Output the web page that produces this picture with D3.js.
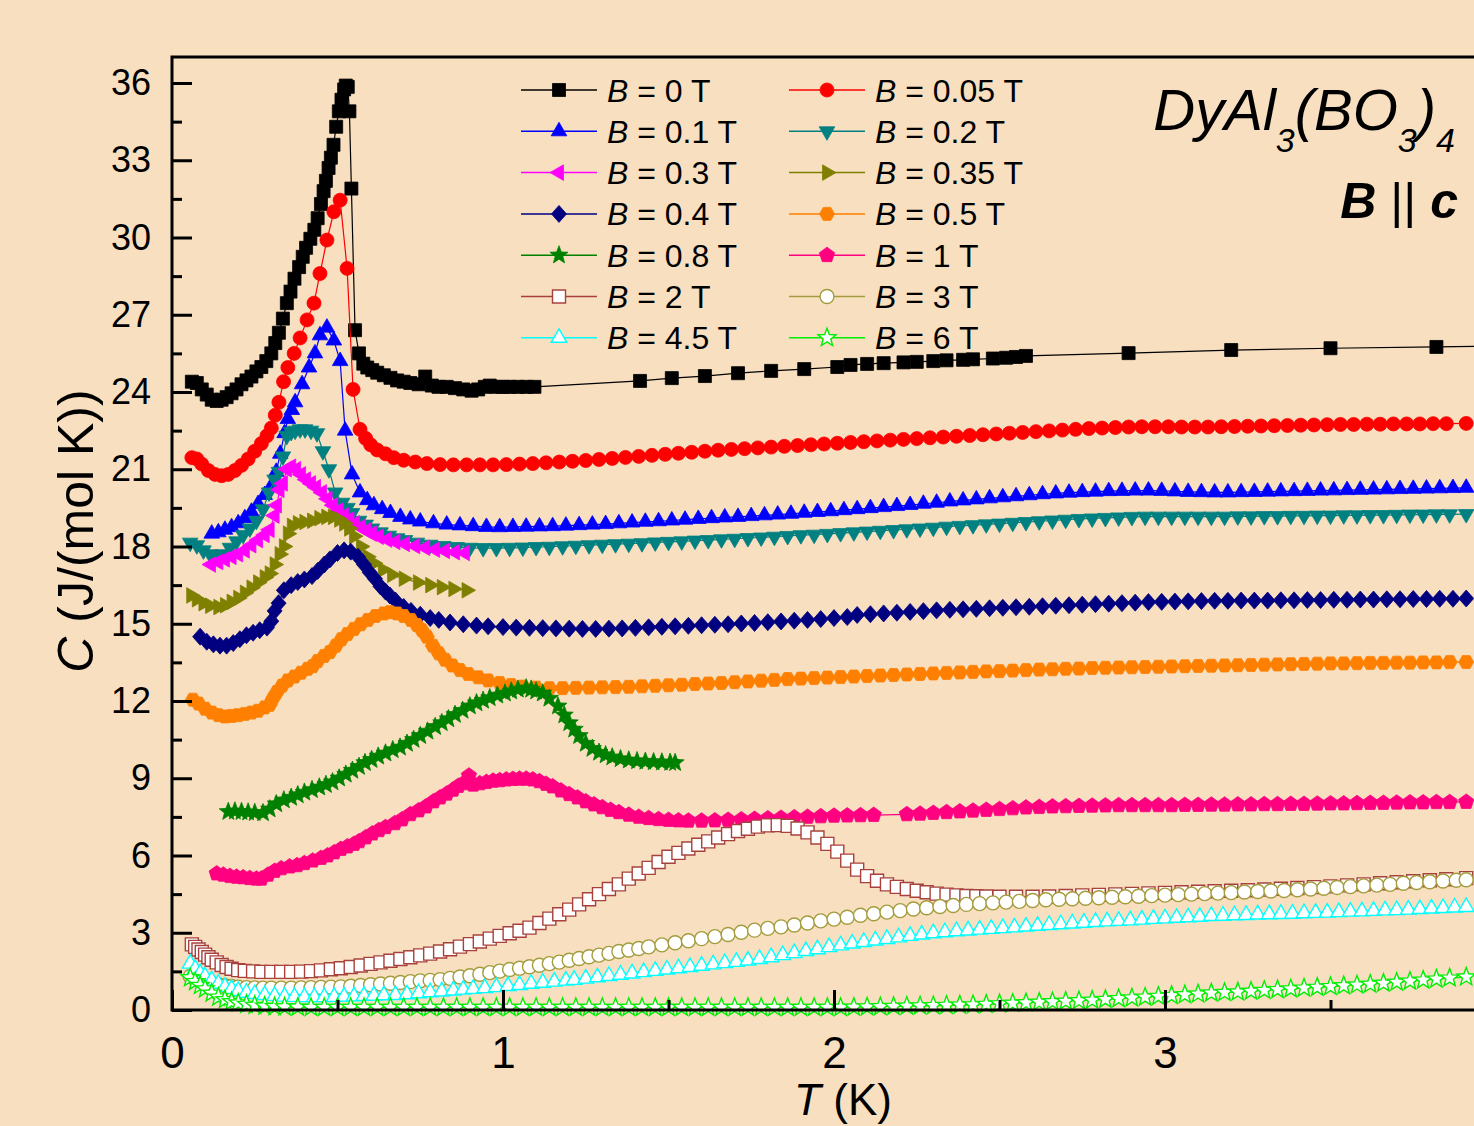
<!DOCTYPE html>
<html><head><meta charset="utf-8">
<script src="https://cdn.jsdelivr.net/npm/d3@7"></script>
<style>html,body{margin:0;padding:0;background:#f7dfc0;}svg{display:block;}</style>
</head><body>
<svg id="chart" width="1474" height="1126"></svg>
<script>
// ---------- data ----------
const xMajorTicks = [0, 1, 2, 3];
const xMinorTicks = [0.5, 1.5, 2.5, 3.5];
const yMajorTicks = [0, 3, 6, 9, 12, 15, 18, 21, 24, 27, 30, 33, 36];
const yMinorTicks = [1.5, 4.5, 7.5, 10.5, 13.5, 16.5, 19.5, 22.5, 25.5, 28.5, 31.5, 34.5];
const fieldLabels = ["0", "0.05", "0.1", "0.2", "0.3", "0.35", "0.4", "0.5", "0.8", "1", "2", "3", "4.5", "6"];
const fieldColors = ["#000000", "#ff0000", "#0000ff", "#008080", "#ff00ff", "#808000", "#000080", "#ff8000", "#008000", "#ff0080", "#a8413c", "#a39c3c", "#00ffff", "#00ee00"];
const fieldShapes = ["square", "circle", "up", "down", "left", "right", "diamond", "hexagon", "star", "pentagon", "square", "circle", "up", "star"];
const fieldFilled = [true, true, true, true, true, true, true, true, true, true, false, false, false, false];

const B0 = [[0.060,24.40],[0.075,24.35],[0.090,24.10],[0.105,23.90],[0.120,23.70],[0.135,23.65],[0.150,23.70],[0.165,23.80],[0.180,23.95],[0.195,24.10],[0.210,24.30],[0.225,24.45],[0.240,24.60],[0.255,24.80],[0.270,24.97],[0.285,25.20],[0.300,25.50],[0.312,25.90],[0.323,26.30],[0.335,26.85],[0.347,27.45],[0.358,27.90],[0.370,28.40],[0.384,28.85],[0.395,29.25],[0.405,29.60],[0.418,29.95],[0.430,30.30],[0.440,30.75],[0.450,31.30],[0.458,31.80],[0.465,32.20],[0.473,32.70],[0.480,33.10],[0.488,33.60],[0.496,34.30],[0.504,34.90],[0.512,35.35],[0.520,35.75],[0.525,35.90],[0.531,35.85],[0.536,34.90],[0.542,31.90],[0.553,26.40],[0.565,25.50],[0.578,25.10],[0.590,24.95],[0.605,24.85],[0.620,24.75],[0.640,24.65],[0.660,24.55],[0.680,24.45],[0.700,24.40],[0.720,24.35],[0.745,24.30],[0.765,24.60],[0.785,24.25],[0.805,24.20],[0.830,24.20],[0.855,24.15],[0.880,24.10],[0.905,24.05],[0.925,24.10],[0.945,24.20],[0.960,24.25],[0.980,24.20],[1.000,24.20],[1.020,24.20],[1.045,24.20],[1.070,24.20],[1.095,24.20],[1.414,24.43],[1.510,24.54],[1.610,24.62],[1.710,24.73],[1.810,24.82],[1.910,24.89],[2.010,24.97],[2.050,25.05],[2.100,25.09],[2.150,25.12],[2.210,25.15],[2.250,25.17],[2.300,25.20],[2.340,25.23],[2.390,25.25],[2.420,25.27],[2.480,25.30],[2.520,25.33],[2.550,25.36],[2.580,25.40],[2.890,25.51],[3.200,25.63],[3.500,25.70],[3.820,25.75],[4.000,25.78]];
const B005 = [[0.060,21.45],[0.075,21.40],[0.090,21.20],[0.110,20.95],[0.130,20.80],[0.150,20.75],[0.170,20.80],[0.190,20.95],[0.210,21.15],[0.230,21.40],[0.250,21.70],[0.270,22.00],[0.287,22.30],[0.300,22.60],[0.312,23.10],[0.323,23.60],[0.337,24.40],[0.350,24.95],[0.369,25.50],[0.387,26.10],[0.408,26.80],[0.429,27.45],[0.447,28.60],[0.468,29.90],[0.489,31.00],[0.508,31.45],[0.529,28.80],[0.547,24.10],[0.568,22.55],[0.585,22.20],[0.600,21.95],[0.620,21.75],[0.645,21.60],[0.670,21.45],[0.700,21.35],[0.735,21.28],[0.770,21.22],[0.810,21.18],[0.850,21.17],[0.890,21.17],[0.930,21.17],[0.970,21.17],[1.010,21.18],[1.050,21.20],[1.090,21.22],[1.130,21.25],[1.170,21.28],[1.210,21.31],[1.250,21.34],[1.290,21.38],[1.330,21.42],[1.370,21.46],[1.410,21.50],[1.450,21.54],[1.490,21.58],[1.530,21.62],[1.570,21.66],[1.610,21.70],[1.650,21.74],[1.690,21.77],[1.730,21.80],[1.770,21.83],[1.810,21.86],[1.850,21.89],[1.890,21.92],[1.930,21.95],[1.970,21.98],[2.010,22.01],[2.050,22.04],[2.090,22.07],[2.130,22.10],[2.170,22.13],[2.210,22.16],[2.250,22.19],[2.290,22.22],[2.330,22.25],[2.370,22.28],[2.410,22.31],[2.450,22.34],[2.490,22.37],[2.530,22.40],[2.570,22.43],[2.610,22.46],[2.650,22.49],[2.690,22.52],[2.730,22.55],[2.770,22.58],[2.810,22.60],[2.850,22.62],[2.890,22.64],[2.930,22.65],[2.970,22.65],[3.010,22.65],[3.050,22.64],[3.090,22.64],[3.130,22.64],[3.170,22.65],[3.210,22.66],[3.250,22.67],[3.290,22.68],[3.330,22.69],[3.370,22.70],[3.410,22.71],[3.450,22.72],[3.490,22.73],[3.530,22.74],[3.570,22.74],[3.610,22.75],[3.650,22.75],[3.690,22.76],[3.730,22.76],[3.770,22.76],[3.810,22.77],[3.850,22.77],[3.910,22.78]];
const B01 = [[0.120,18.50],[0.140,18.55],[0.160,18.65],[0.180,18.75],[0.200,18.90],[0.220,19.10],[0.240,19.35],[0.260,19.65],[0.280,20.00],[0.300,20.35],[0.315,20.90],[0.327,21.60],[0.340,22.40],[0.350,22.95],[0.362,23.30],[0.372,23.60],[0.393,24.30],[0.414,24.95],[0.432,25.50],[0.447,26.20],[0.468,26.50],[0.489,26.00],[0.508,25.20],[0.523,22.50],[0.544,20.80],[0.568,20.10],[0.590,19.80],[0.610,19.60],[0.635,19.45],[0.660,19.30],[0.690,19.15],[0.720,19.05],[0.750,18.97],[0.790,18.90],[0.830,18.85],[0.870,18.82],[0.910,18.79],[0.950,18.76],[0.990,18.75],[1.030,18.76],[1.070,18.77],[1.110,18.78],[1.150,18.79],[1.190,18.81],[1.230,18.83],[1.270,18.85],[1.310,18.87],[1.350,18.90],[1.390,18.93],[1.430,18.96],[1.470,18.98],[1.510,19.01],[1.550,19.04],[1.590,19.07],[1.630,19.10],[1.670,19.13],[1.710,19.15],[1.750,19.18],[1.790,19.21],[1.830,19.24],[1.870,19.27],[1.910,19.31],[1.950,19.34],[1.990,19.37],[2.030,19.41],[2.070,19.45],[2.110,19.49],[2.150,19.53],[2.190,19.57],[2.230,19.61],[2.270,19.66],[2.310,19.70],[2.350,19.75],[2.390,19.79],[2.430,19.83],[2.470,19.87],[2.510,19.91],[2.550,19.95],[2.590,19.99],[2.630,20.03],[2.670,20.06],[2.710,20.09],[2.750,20.11],[2.790,20.13],[2.830,20.15],[2.870,20.16],[2.910,20.17],[2.950,20.17],[2.990,20.16],[3.030,20.14],[3.070,20.12],[3.110,20.11],[3.150,20.10],[3.190,20.10],[3.230,20.11],[3.270,20.12],[3.310,20.13],[3.350,20.14],[3.390,20.15],[3.430,20.16],[3.470,20.17],[3.510,20.18],[3.550,20.19],[3.590,20.20],[3.630,20.21],[3.670,20.22],[3.710,20.23],[3.750,20.24],[3.790,20.25],[3.830,20.26],[3.870,20.27],[3.910,20.28]];
const B02 = [[0.055,18.15],[0.075,18.05],[0.095,17.85],[0.115,17.70],[0.135,17.60],[0.155,17.70],[0.175,17.95],[0.195,18.20],[0.215,18.45],[0.235,18.70],[0.255,19.00],[0.275,19.45],[0.293,20.10],[0.310,20.60],[0.323,20.90],[0.335,21.50],[0.347,22.30],[0.360,22.45],[0.372,22.50],[0.387,22.55],[0.402,22.55],[0.420,22.50],[0.438,22.40],[0.456,21.70],[0.474,21.00],[0.493,20.10],[0.514,19.70],[0.530,19.50],[0.544,19.30],[0.565,19.00],[0.585,18.85],[0.604,18.70],[0.630,18.55],[0.655,18.42],[0.680,18.32],[0.704,18.25],[0.740,18.15],[0.780,18.07],[0.820,18.02],[0.860,17.98],[0.900,17.95],[0.940,17.94],[0.980,17.94],[1.020,17.95],[1.060,17.96],[1.100,17.98],[1.140,17.99],[1.180,18.01],[1.220,18.03],[1.260,18.05],[1.300,18.07],[1.340,18.09],[1.380,18.11],[1.420,18.13],[1.460,18.16],[1.500,18.18],[1.540,18.20],[1.580,18.23],[1.620,18.25],[1.660,18.28],[1.700,18.30],[1.740,18.33],[1.780,18.35],[1.820,18.38],[1.860,18.41],[1.900,18.44],[1.940,18.46],[1.980,18.49],[2.020,18.52],[2.060,18.55],[2.100,18.58],[2.140,18.61],[2.180,18.64],[2.220,18.67],[2.260,18.70],[2.300,18.73],[2.340,18.77],[2.380,18.80],[2.420,18.83],[2.460,18.86],[2.500,18.89],[2.540,18.92],[2.580,18.95],[2.620,18.98],[2.660,19.01],[2.700,19.04],[2.740,19.07],[2.780,19.09],[2.820,19.11],[2.860,19.13],[2.900,19.15],[2.940,19.16],[2.980,19.16],[3.020,19.16],[3.060,19.16],[3.100,19.16],[3.140,19.16],[3.180,19.16],[3.220,19.17],[3.260,19.17],[3.300,19.18],[3.340,19.18],[3.380,19.19],[3.420,19.19],[3.460,19.20],[3.500,19.20],[3.540,19.21],[3.580,19.21],[3.620,19.22],[3.660,19.22],[3.700,19.23],[3.740,19.24],[3.780,19.24],[3.820,19.25],[3.860,19.25],[3.910,19.26]];
const B03 = [[0.118,17.30],[0.140,17.40],[0.160,17.50],[0.180,17.60],[0.200,17.70],[0.220,17.85],[0.240,18.05],[0.260,18.25],[0.280,18.45],[0.295,18.65],[0.310,19.20],[0.317,19.60],[0.325,20.20],[0.335,20.45],[0.347,21.00],[0.360,21.10],[0.375,21.00],[0.390,20.80],[0.405,20.60],[0.420,20.45],[0.435,20.30],[0.453,20.10],[0.470,19.85],[0.487,19.60],[0.504,19.40],[0.520,19.20],[0.536,19.05],[0.553,18.90],[0.570,18.75],[0.587,18.62],[0.604,18.50],[0.625,18.38],[0.650,18.27],[0.675,18.18],[0.704,18.10],[0.735,18.02],[0.765,17.95],[0.795,17.88],[0.825,17.83],[0.855,17.78],[0.885,17.75]];
const B035 = [[0.058,16.10],[0.075,15.95],[0.095,15.80],[0.115,15.70],[0.140,15.65],[0.160,15.72],[0.180,15.85],[0.200,16.00],[0.220,16.20],[0.240,16.40],[0.260,16.60],[0.280,16.80],[0.295,16.95],[0.310,17.30],[0.325,17.70],[0.338,18.00],[0.350,18.50],[0.362,18.80],[0.380,18.90],[0.400,18.95],[0.423,19.00],[0.445,19.10],[0.466,19.15],[0.486,19.15],[0.505,19.05],[0.520,18.90],[0.535,18.70],[0.550,18.40],[0.571,18.00],[0.590,17.60],[0.610,17.35],[0.637,17.10],[0.665,16.90],[0.700,16.75],[0.743,16.60],[0.780,16.50],[0.815,16.42],[0.850,16.35],[0.890,16.30]];
const B04 = [[0.085,14.50],[0.105,14.30],[0.125,14.20],[0.145,14.15],[0.165,14.15],[0.185,14.25],[0.205,14.40],[0.225,14.55],[0.245,14.65],[0.265,14.75],[0.287,14.85],[0.300,15.10],[0.310,15.50],[0.322,15.80],[0.338,16.30],[0.360,16.50],[0.380,16.62],[0.400,16.72],[0.423,16.85],[0.440,17.05],[0.460,17.30],[0.477,17.50],[0.500,17.75],[0.520,17.85],[0.540,17.80],[0.562,17.60],[0.580,17.30],[0.597,17.00],[0.613,16.75],[0.630,16.45],[0.645,16.25],[0.658,16.10],[0.675,15.90],[0.700,15.65],[0.722,15.50],[0.750,15.35],[0.780,15.22],[0.806,15.15],[0.840,15.05],[0.880,14.98],[0.920,14.93],[0.955,14.90],[1.000,14.87],[1.040,14.85],[1.080,14.84],[1.120,14.83],[1.160,14.82],[1.200,14.81],[1.240,14.80],[1.280,14.80],[1.320,14.81],[1.360,14.82],[1.400,14.84],[1.440,14.86],[1.480,14.88],[1.520,14.90],[1.560,14.92],[1.600,14.94],[1.640,14.96],[1.680,14.98],[1.720,15.01],[1.760,15.03],[1.800,15.06],[1.840,15.09],[1.880,15.12],[1.920,15.15],[1.960,15.18],[2.000,15.22],[2.040,15.26],[2.070,15.34],[2.110,15.37],[2.150,15.40],[2.190,15.43],[2.230,15.46],[2.270,15.49],[2.310,15.52],[2.350,15.54],[2.390,15.56],[2.430,15.58],[2.470,15.60],[2.510,15.62],[2.550,15.64],[2.590,15.66],[2.630,15.68],[2.670,15.70],[2.710,15.72],[2.750,15.74],[2.790,15.76],[2.830,15.78],[2.870,15.80],[2.910,15.82],[2.950,15.84],[2.990,15.85],[3.030,15.86],[3.070,15.87],[3.110,15.88],[3.150,15.89],[3.190,15.89],[3.230,15.90],[3.270,15.90],[3.310,15.90],[3.350,15.91],[3.390,15.91],[3.430,15.92],[3.470,15.92],[3.510,15.93],[3.550,15.93],[3.590,15.94],[3.630,15.94],[3.670,15.95],[3.710,15.95],[3.750,15.96],[3.790,15.96],[3.830,15.97],[3.870,15.97],[3.910,15.98]];
const B05 = [[0.063,12.05],[0.080,11.90],[0.100,11.70],[0.120,11.55],[0.140,11.45],[0.160,11.40],[0.180,11.42],[0.200,11.45],[0.220,11.50],[0.240,11.55],[0.260,11.62],[0.280,11.75],[0.295,11.85],[0.305,12.10],[0.317,12.35],[0.333,12.60],[0.350,12.80],[0.370,12.95],[0.390,13.10],[0.410,13.25],[0.425,13.35],[0.440,13.55],[0.460,13.75],[0.477,13.90],[0.495,14.15],[0.512,14.40],[0.530,14.60],[0.550,14.80],[0.570,14.98],[0.592,15.15],[0.615,15.30],[0.640,15.40],[0.658,15.45],[0.680,15.40],[0.700,15.30],[0.722,15.15],[0.740,14.95],[0.755,14.75],[0.770,14.50],[0.788,14.15],[0.806,13.85],[0.825,13.60],[0.847,13.38],[0.870,13.20],[0.895,13.05],[0.925,12.92],[0.955,12.80],[0.990,12.70],[1.025,12.62],[1.060,12.56],[1.100,12.52],[1.140,12.50],[1.180,12.50],[1.220,12.51],[1.260,12.52],[1.300,12.53],[1.340,12.54],[1.380,12.55],[1.420,12.57],[1.460,12.59],[1.500,12.61],[1.540,12.63],[1.580,12.66],[1.620,12.68],[1.660,12.70],[1.700,12.73],[1.740,12.76],[1.780,12.79],[1.820,12.82],[1.860,12.85],[1.900,12.87],[1.940,12.89],[1.980,12.91],[2.020,12.93],[2.060,12.95],[2.100,12.97],[2.140,12.99],[2.180,13.01],[2.220,13.03],[2.260,13.05],[2.300,13.07],[2.340,13.09],[2.380,13.11],[2.420,13.13],[2.460,13.15],[2.500,13.16],[2.540,13.18],[2.580,13.20],[2.620,13.22],[2.660,13.23],[2.700,13.25],[2.740,13.26],[2.780,13.28],[2.820,13.29],[2.860,13.30],[2.900,13.31],[2.940,13.32],[2.980,13.33],[3.020,13.34],[3.060,13.35],[3.100,13.36],[3.140,13.37],[3.180,13.38],[3.220,13.39],[3.260,13.40],[3.300,13.41],[3.340,13.42],[3.380,13.43],[3.420,13.44],[3.460,13.45],[3.500,13.46],[3.540,13.46],[3.580,13.47],[3.620,13.48],[3.660,13.48],[3.700,13.49],[3.740,13.49],[3.780,13.50],[3.820,13.50],[3.860,13.51],[3.910,13.51]];
const B08 = [[0.170,7.70],[0.190,7.72],[0.210,7.70],[0.230,7.68],[0.250,7.66],[0.275,7.65],[0.295,7.80],[0.315,8.00],[0.338,8.15],[0.360,8.25],[0.380,8.35],[0.400,8.45],[0.423,8.55],[0.445,8.65],[0.465,8.75],[0.485,8.85],[0.505,9.00],[0.525,9.15],[0.545,9.30],[0.565,9.45],[0.583,9.60],[0.603,9.72],[0.623,9.85],[0.645,9.97],[0.667,10.10],[0.689,10.20],[0.710,10.35],[0.730,10.50],[0.750,10.65],[0.772,10.82],[0.795,11.00],[0.815,11.15],[0.835,11.30],[0.855,11.47],[0.878,11.63],[0.900,11.80],[0.920,11.92],[0.940,12.02],[0.960,12.12],[0.983,12.22],[1.006,12.30],[1.025,12.38],[1.045,12.45],[1.070,12.50],[1.085,12.45],[1.100,12.38],[1.120,12.30],[1.140,12.10],[1.166,11.80],[1.185,11.45],[1.200,11.15],[1.215,10.90],[1.230,10.65],[1.250,10.35],[1.270,10.15],[1.290,10.00],[1.310,9.90],[1.330,9.82],[1.355,9.75],[1.380,9.70],[1.405,9.67],[1.430,9.65],[1.455,9.63],[1.480,9.62],[1.505,9.61],[1.520,9.60]];
const B1 = [[0.135,5.30],[0.155,5.25],[0.175,5.20],[0.195,5.17],[0.215,5.15],[0.235,5.12],[0.255,5.10],[0.270,5.10],[0.290,5.25],[0.310,5.40],[0.330,5.50],[0.355,5.57],[0.378,5.62],[0.400,5.70],[0.425,5.80],[0.450,5.90],[0.470,6.00],[0.490,6.12],[0.510,6.25],[0.530,6.35],[0.550,6.45],[0.565,6.55],[0.585,6.70],[0.605,6.85],[0.625,6.98],[0.645,7.10],[0.673,7.25],[0.695,7.40],[0.720,7.60],[0.745,7.75],[0.767,7.90],[0.790,8.10],[0.810,8.25],[0.830,8.40],[0.849,8.55],[0.865,8.70],[0.880,8.80],[0.897,9.10],[0.910,8.75],[0.930,8.80],[0.950,8.85],[0.970,8.90],[0.990,8.92],[1.010,8.95],[1.030,8.97],[1.050,8.98],[1.070,8.98],[1.090,8.95],[1.110,8.88],[1.130,8.78],[1.150,8.68],[1.175,8.52],[1.200,8.38],[1.225,8.25],[1.250,8.10],[1.275,7.98],[1.300,7.87],[1.325,7.77],[1.350,7.68],[1.380,7.58],[1.410,7.50],[1.440,7.45],[1.470,7.41],[1.500,7.38],[1.530,7.36],[1.560,7.35],[1.600,7.35],[1.640,7.36],[1.680,7.38],[1.720,7.40],[1.760,7.42],[1.800,7.44],[1.840,7.46],[1.880,7.48],[1.920,7.50],[1.960,7.52],[2.000,7.54],[2.040,7.55],[2.080,7.56],[2.120,7.57],[2.220,7.60],[2.260,7.62],[2.300,7.65],[2.340,7.68],[2.380,7.71],[2.420,7.74],[2.460,7.77],[2.500,7.80],[2.540,7.83],[2.580,7.86],[2.620,7.88],[2.660,7.90],[2.700,7.91],[2.740,7.92],[2.780,7.93],[2.820,7.94],[2.860,7.95],[2.900,7.95],[2.940,7.95],[2.980,7.95],[3.020,7.95],[3.060,7.96],[3.100,7.96],[3.140,7.97],[3.180,7.97],[3.220,7.98],[3.260,7.98],[3.300,7.99],[3.340,7.99],[3.380,8.00],[3.420,8.00],[3.460,8.01],[3.500,8.02],[3.540,8.02],[3.580,8.03],[3.620,8.04],[3.660,8.04],[3.700,8.05],[3.740,8.06],[3.780,8.06],[3.820,8.07],[3.860,8.07],[3.910,8.08]];
const B2 = [[0.060,2.55],[0.070,2.45],[0.080,2.35],[0.090,2.25],[0.100,2.15],[0.110,2.05],[0.120,1.95],[0.135,1.85],[0.150,1.75],[0.165,1.67],[0.180,1.60],[0.200,1.55],[0.220,1.52],[0.245,1.50],[0.270,1.48],[0.300,1.48],[0.330,1.48],[0.360,1.48],[0.390,1.49],[0.420,1.51],[0.450,1.54],[0.480,1.58],[0.510,1.62],[0.540,1.67],[0.570,1.73],[0.600,1.79],[0.630,1.85],[0.660,1.91],[0.690,1.98],[0.720,2.05],[0.750,2.12],[0.780,2.19],[0.810,2.27],[0.840,2.36],[0.870,2.46],[0.900,2.56],[0.930,2.66],[0.960,2.77],[0.990,2.88],[1.020,2.98],[1.050,3.08],[1.080,3.20],[1.110,3.38],[1.140,3.55],[1.170,3.72],[1.200,3.90],[1.230,4.10],[1.260,4.30],[1.290,4.50],[1.320,4.70],[1.350,4.88],[1.380,5.10],[1.410,5.30],[1.440,5.52],[1.470,5.75],[1.500,5.95],[1.530,6.10],[1.560,6.27],[1.590,6.42],[1.620,6.55],[1.650,6.70],[1.680,6.83],[1.710,6.95],[1.740,7.04],[1.770,7.12],[1.800,7.17],[1.830,7.18],[1.860,7.15],[1.890,7.05],[1.920,6.90],[1.950,6.70],[1.980,6.45],[2.010,6.15],[2.040,5.80],[2.070,5.45],[2.100,5.20],[2.130,5.02],[2.160,4.88],[2.190,4.78],[2.220,4.70],[2.250,4.63],[2.280,4.57],[2.310,4.52],[2.340,4.48],[2.370,4.45],[2.400,4.43],[2.430,4.42],[2.460,4.41],[2.500,4.40],[2.550,4.40],[2.600,4.40],[2.650,4.41],[2.700,4.43],[2.750,4.45],[2.800,4.47],[2.850,4.49],[2.900,4.51],[2.950,4.53],[3.000,4.55],[3.050,4.57],[3.100,4.59],[3.150,4.61],[3.200,4.63],[3.250,4.65],[3.300,4.68],[3.350,4.71],[3.400,4.74],[3.450,4.77],[3.500,4.80],[3.550,4.84],[3.600,4.88],[3.650,4.92],[3.700,4.96],[3.750,5.00],[3.800,5.04],[3.850,5.08],[3.910,5.12]];
const B3 = [[0.055,1.30],[0.070,1.20],[0.085,1.12],[0.100,1.07],[0.120,1.03],[0.140,0.98],[0.160,0.94],[0.180,0.91],[0.200,0.89],[0.225,0.87],[0.250,0.86],[0.275,0.85],[0.300,0.85],[0.330,0.85],[0.360,0.85],[0.390,0.86],[0.420,0.87],[0.450,0.88],[0.480,0.89],[0.510,0.90],[0.540,0.92],[0.570,0.95],[0.600,0.98],[0.630,1.01],[0.660,1.04],[0.690,1.07],[0.720,1.10],[0.750,1.13],[0.780,1.15],[0.810,1.18],[0.840,1.23],[0.870,1.28],[0.900,1.33],[0.930,1.39],[0.960,1.45],[0.990,1.51],[1.020,1.57],[1.050,1.62],[1.080,1.68],[1.110,1.74],[1.140,1.80],[1.170,1.86],[1.200,1.93],[1.230,2.00],[1.260,2.07],[1.290,2.13],[1.320,2.20],[1.350,2.27],[1.380,2.33],[1.410,2.39],[1.440,2.45],[1.480,2.53],[1.520,2.61],[1.560,2.69],[1.600,2.77],[1.640,2.85],[1.680,2.93],[1.720,3.02],[1.760,3.10],[1.800,3.17],[1.840,3.23],[1.880,3.30],[1.920,3.38],[1.960,3.46],[2.000,3.53],[2.040,3.60],[2.080,3.68],[2.120,3.74],[2.160,3.80],[2.200,3.86],[2.240,3.92],[2.280,3.97],[2.320,4.02],[2.360,4.06],[2.400,4.10],[2.440,4.13],[2.480,4.16],[2.520,4.19],[2.560,4.22],[2.600,4.25],[2.640,4.28],[2.680,4.30],[2.720,4.32],[2.760,4.34],[2.800,4.36],[2.840,4.38],[2.880,4.40],[2.920,4.42],[2.960,4.44],[3.000,4.46],[3.040,4.48],[3.080,4.50],[3.120,4.52],[3.160,4.54],[3.200,4.56],[3.240,4.58],[3.280,4.60],[3.320,4.62],[3.360,4.64],[3.400,4.67],[3.440,4.70],[3.480,4.73],[3.520,4.76],[3.560,4.79],[3.600,4.82],[3.640,4.85],[3.680,4.88],[3.720,4.92],[3.760,4.95],[3.800,4.98],[3.840,5.01],[3.880,5.04],[3.910,5.06]];
const B45 = [[0.055,1.80],[0.070,1.60],[0.085,1.42],[0.100,1.30],[0.120,1.15],[0.140,1.02],[0.160,0.90],[0.180,0.82],[0.200,0.74],[0.225,0.67],[0.250,0.62],[0.280,0.58],[0.310,0.55],[0.340,0.52],[0.370,0.51],[0.400,0.50],[0.430,0.50],[0.460,0.50],[0.490,0.51],[0.520,0.52],[0.550,0.53],[0.580,0.55],[0.610,0.56],[0.640,0.57],[0.675,0.58],[0.710,0.61],[0.745,0.65],[0.780,0.69],[0.815,0.72],[0.850,0.76],[0.880,0.79],[0.910,0.82],[0.945,0.85],[0.980,0.89],[1.015,0.93],[1.050,0.97],[1.085,1.02],[1.120,1.06],[1.155,1.10],[1.190,1.14],[1.215,1.17],[1.250,1.22],[1.285,1.27],[1.320,1.32],[1.355,1.37],[1.390,1.42],[1.425,1.47],[1.460,1.52],[1.495,1.57],[1.530,1.62],[1.565,1.67],[1.600,1.72],[1.635,1.77],[1.670,1.82],[1.705,1.87],[1.740,1.92],[1.775,1.98],[1.810,2.05],[1.845,2.13],[1.880,2.21],[1.915,2.29],[1.950,2.36],[1.985,2.44],[2.020,2.51],[2.055,2.58],[2.090,2.64],[2.125,2.70],[2.160,2.76],[2.195,2.82],[2.230,2.88],[2.265,2.93],[2.300,2.98],[2.335,3.02],[2.370,3.06],[2.405,3.09],[2.440,3.12],[2.475,3.15],[2.510,3.18],[2.545,3.21],[2.580,3.24],[2.615,3.27],[2.650,3.30],[2.685,3.33],[2.720,3.36],[2.755,3.39],[2.790,3.42],[2.825,3.44],[2.860,3.46],[2.895,3.48],[2.930,3.51],[2.965,3.54],[3.000,3.56],[3.035,3.58],[3.070,3.60],[3.105,3.62],[3.140,3.65],[3.175,3.66],[3.210,3.68],[3.245,3.69],[3.280,3.71],[3.315,3.72],[3.350,3.73],[3.385,3.74],[3.420,3.76],[3.455,3.77],[3.490,3.78],[3.525,3.80],[3.560,3.82],[3.595,3.83],[3.630,3.85],[3.665,3.87],[3.700,3.88],[3.735,3.90],[3.770,3.92],[3.805,3.94],[3.840,3.96],[3.875,3.98],[3.910,4.00]];
const B6 = [[0.055,1.25],[0.070,1.10],[0.085,0.95],[0.100,0.82],[0.120,0.65],[0.140,0.50],[0.160,0.40],[0.180,0.32],[0.200,0.27],[0.225,0.22],[0.250,0.18],[0.280,0.15],[0.310,0.13],[0.340,0.12],[0.380,0.11],[0.420,0.10],[0.460,0.10],[0.500,0.10],[0.540,0.10],[0.580,0.10],[0.620,0.10],[0.660,0.10],[0.700,0.10],[0.740,0.10],[0.780,0.10],[0.820,0.10],[0.860,0.10],[0.900,0.10],[0.940,0.10],[0.980,0.10],[1.020,0.10],[1.060,0.10],[1.100,0.10],[1.140,0.10],[1.180,0.10],[1.220,0.10],[1.260,0.10],[1.300,0.10],[1.340,0.10],[1.380,0.10],[1.420,0.10],[1.460,0.10],[1.500,0.10],[1.540,0.10],[1.580,0.10],[1.620,0.10],[1.660,0.10],[1.700,0.10],[1.740,0.10],[1.780,0.10],[1.820,0.10],[1.860,0.10],[1.900,0.10],[1.940,0.10],[1.980,0.10],[2.020,0.10],[2.060,0.11],[2.100,0.12],[2.140,0.13],[2.180,0.14],[2.220,0.15],[2.260,0.16],[2.300,0.17],[2.340,0.18],[2.380,0.19],[2.420,0.20],[2.460,0.22],[2.500,0.24],[2.540,0.26],[2.580,0.28],[2.620,0.30],[2.660,0.32],[2.700,0.34],[2.740,0.36],[2.780,0.38],[2.820,0.41],[2.860,0.44],[2.900,0.47],[2.940,0.50],[2.980,0.53],[3.020,0.56],[3.060,0.59],[3.100,0.62],[3.140,0.66],[3.180,0.68],[3.220,0.70],[3.260,0.73],[3.300,0.76],[3.340,0.79],[3.380,0.82],[3.420,0.85],[3.460,0.88],[3.500,0.91],[3.540,0.94],[3.580,0.97],[3.620,1.00],[3.660,1.04],[3.700,1.08],[3.740,1.12],[3.780,1.16],[3.820,1.20],[3.860,1.24],[3.910,1.28]];
const fieldData = [B0, B005, B01, B02, B03, B035, B04, B05, B08, B1, B2, B3, B45, B6];

// ---------- drawing ----------
const FONT = "'Liberation Sans', Arial, Helvetica, sans-serif";
const svg = d3.select("#chart");
svg.append("rect").attr("width", 1474).attr("height", 1126).attr("fill", "#f7dfc0");

const x = d3.scaleLinear().domain([0, 3]).range([172, 1165]);
const y = d3.scaleLinear().domain([0, 36]).range([1010, 83]);

function poly(n, r, start) {
  const pts = [];
  for (let i = 0; i < n; i++) {
    const a = start + 2 * Math.PI * i / n;
    pts.push((r * Math.cos(a)).toFixed(2) + "," + (r * Math.sin(a)).toFixed(2));
  }
  return "M" + pts.join("L") + "Z";
}
function star(ro, ri) {
  const pts = [];
  for (let i = 0; i < 10; i++) {
    const r = i % 2 ? ri : ro;
    const a = -Math.PI / 2 + Math.PI * i / 5;
    pts.push((r * Math.cos(a)).toFixed(2) + "," + (r * Math.sin(a)).toFixed(2));
  }
  return "M" + pts.join("L") + "Z";
}
const shapePaths = {
  square: "M-6.5,-6.5H6.5V6.5H-6.5Z",
  circle: "M7,0A7,7 0 1 1 -7,0A7,7 0 1 1 7,0Z",
  up: poly(3, 9, -Math.PI / 2),
  down: poly(3, 9, Math.PI / 2),
  left: poly(3, 9, Math.PI),
  right: poly(3, 9, 0),
  diamond: "M0,-8.5L7.5,0L0,8.5L-7.5,0Z",
  hexagon: poly(6, 7.5, 0),
  pentagon: poly(5, 8, -Math.PI / 2),
  star: star(9.5, 4)
};

const plot = svg.append("g");
const line = d3.line().x(d => x(d[0])).y(d => y(d[1]));

fieldData.forEach((data, i) => {
  const g = plot.append("g");
  const col = fieldColors[i];
  g.append("path").attr("d", line(data)).attr("fill", "none")
    .attr("stroke", col).attr("stroke-width", 1.2);
  g.selectAll("path.m").data(data).enter().append("path").attr("class", "m")
    .attr("d", shapePaths[fieldShapes[i]])
    .attr("transform", d => `translate(${x(d[0])},${y(d[1])})`)
    .attr("fill", fieldFilled[i] ? col : "#ffffff")
    .attr("stroke", col).attr("stroke-width", fieldFilled[i] ? 0.8 : 1.4);
});

// axes
const axisG = svg.append("g");
const yAxis = d3.axisLeft(y).tickValues(yMajorTicks).tickSizeInner(-20).tickSizeOuter(0).tickPadding(21);
const yMinor = d3.axisLeft(y).tickValues(yMinorTicks).tickSizeInner(-10).tickSizeOuter(0).tickFormat("");
const xAxis = d3.axisBottom(x).tickValues(xMajorTicks).tickSizeInner(-20).tickSizeOuter(0).tickPadding(27).tickFormat(d3.format("d"));
const xMinor = d3.axisBottom(x).tickValues(xMinorTicks).tickSizeInner(-10).tickSizeOuter(0).tickFormat("");

function styleAxis(g, fs) {
  g.select(".domain").remove();
  g.selectAll(".tick line").attr("stroke", "#000").attr("stroke-width", 3);
  g.selectAll(".tick text").attr("fill", "#000").style("font-family", FONT).style("font-size", fs + "px");
}
axisG.append("g").attr("transform", "translate(172,0)").call(yAxis).call(g => styleAxis(g, 36));
axisG.append("g").attr("transform", "translate(172,0)").call(yMinor).call(g => styleAxis(g, 36));
axisG.append("g").attr("transform", "translate(0,1010)").call(xAxis).call(g => styleAxis(g, 44));
axisG.append("g").attr("transform", "translate(0,1010)").call(xMinor).call(g => styleAxis(g, 44));

// frame
axisG.append("path").attr("d", "M1480,57H172V1010H1480").attr("fill", "none")
  .attr("stroke", "#000").attr("stroke-width", 3).attr("stroke-linejoin", "miter");

// axis titles
const yt = svg.append("text").attr("transform", "translate(93,531) rotate(-90)")
  .attr("text-anchor", "middle").style("font-family", FONT).style("font-size", "50px").attr("fill", "#000");
yt.append("tspan").style("font-style", "italic").text("C");
yt.append("tspan").text(" (J/(mol K))");

const xt = svg.append("text").attr("x", 843).attr("y", 1115)
  .attr("text-anchor", "middle").style("font-family", FONT).style("font-size", "44px").attr("fill", "#000");
xt.append("tspan").style("font-style", "italic").text("T");
xt.append("tspan").text(" (K)");

// legend
const legend = svg.append("g");
const rowY = 90, rowStep = 41.3;
const cols = [{lx0: 521, lx1: 597, mx: 559, tx: 607}, {lx0: 789, lx1: 865, mx: 827, tx: 875}];
fieldLabels.forEach((lab, i) => {
  const c = cols[i % 2];
  const yy = rowY + Math.floor(i / 2) * rowStep;
  const col = fieldColors[i];
  legend.append("line").attr("x1", c.lx0).attr("x2", c.lx1).attr("y1", yy).attr("y2", yy)
    .attr("stroke", col).attr("stroke-width", 1.5);
  legend.append("path").attr("d", shapePaths[fieldShapes[i]])
    .attr("transform", `translate(${c.mx},${yy})`)
    .attr("fill", fieldFilled[i] ? col : "#ffffff")
    .attr("stroke", col).attr("stroke-width", fieldFilled[i] ? 0.8 : 1.4);
  const t = legend.append("text").attr("x", c.tx).attr("y", yy + 11.5)
    .style("font-family", FONT).style("font-size", "32px").attr("fill", "#000");
  t.append("tspan").style("font-style", "italic").text("B");
  t.append("tspan").text(" = " + lab + " T");
});

// compound title
const title = svg.append("text").attr("x", 1455).attr("y", 130).attr("text-anchor", "end")
  .style("font-family", FONT).style("font-size", "58px").style("font-style", "italic").attr("fill", "#000");
title.append("tspan").text("DyAl");
title.append("tspan").attr("dy", 22).style("font-size", "34px").text("3");
title.append("tspan").attr("dy", -22).text("(BO");
title.append("tspan").attr("dy", 22).style("font-size", "34px").text("3");
title.append("tspan").attr("dy", -22).text(")");
title.append("tspan").attr("dy", 22).style("font-size", "34px").text("4");

const sub = svg.append("text").attr("x", 1458).attr("y", 218).attr("text-anchor", "end")
  .style("font-family", FONT).style("font-size", "50px").style("font-style", "italic")
  .style("font-weight", "bold").attr("fill", "#000");
sub.append("tspan").text("B ");
sub.append("tspan").style("font-weight", "normal").style("font-style", "normal").text("||");
sub.append("tspan").text(" c");
</script>
</body></html>
